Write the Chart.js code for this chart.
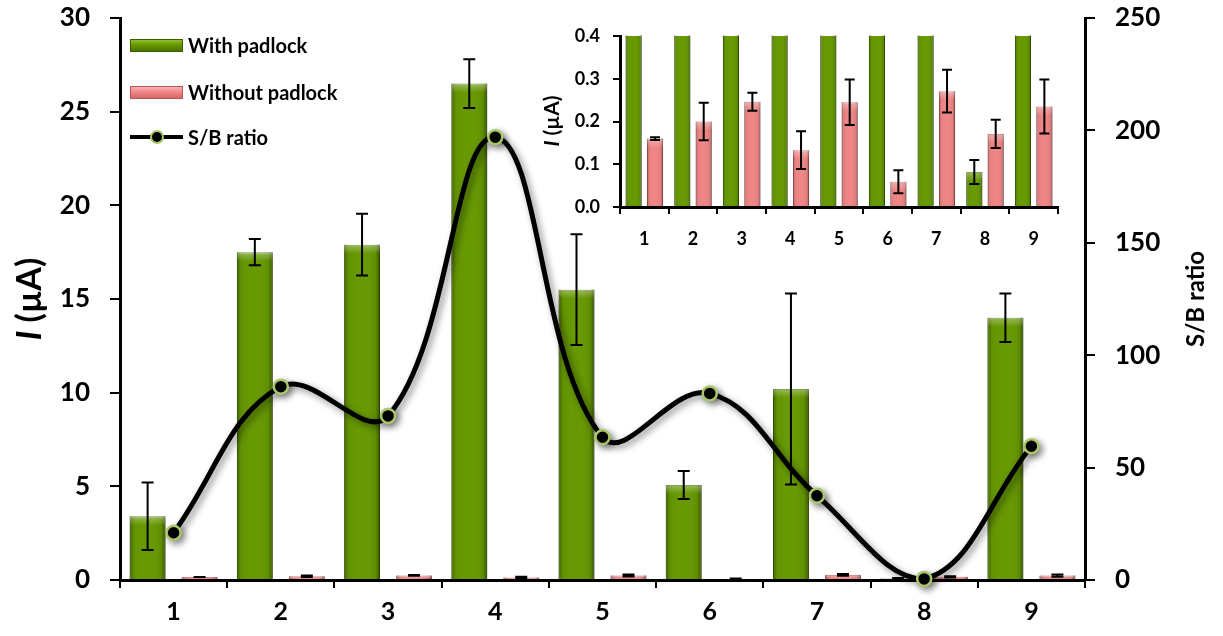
<!DOCTYPE html>
<html>
<head>
<meta charset="utf-8">
<script src="https://cdn.jsdelivr.net/npm/chart.js@4/dist/chart.umd.min.js"></script>
<style>
  body { margin: 0; background: #fff; }
  #wrap { position: relative; width: 1223px; height: 636px; font-family: Lato, sans-serif; }
  #main { position: absolute; left: 0; top: 0; }
  #inset { position: absolute; left: 520px; top: 20px; }
  .leg { position: absolute; left: 130px; height: 24px; display: flex; align-items: center;
         font: bold 20px Lato, sans-serif; color: #000; white-space: nowrap; }
  .sw { width: 53px; height: 13px; margin-right: 5px; box-sizing: border-box; }
  .sw.green { background: linear-gradient(#8fbf2e, #669900 45%, #4a7300); border: 1px solid #3b5c00; }
  .sw.pink { background: linear-gradient(#f9b3b3, #f08787 45%, #d56868); border: 1px solid #b95555; }
  .sw.line { position: relative; height: 4px; background: #000; margin-top: 0; }
  .sw.line::after { content: ''; position: absolute; left: 20px; top: -5px; width: 10px; height: 10px;
         border-radius: 50%; background: #000; border: 2px solid #a9c86a; }
</style>
</head>
<body>
<div id="wrap">
  <canvas id="main" width="1223" height="636"></canvas>
  <canvas id="inset" width="545" height="235"></canvas>
  <div class="leg" style="top:33px"><div class="sw green"></div>With padlock</div>
  <div class="leg" style="top:80px"><div class="sw pink"></div>Without padlock</div>
  <div class="leg" style="top:125px"><div class="sw line"></div>S/B ratio</div>
</div>
<script>
// data
const categories = ['1', '2', '3', '4', '5', '6', '7', '8', '9'];
const withPadlock = [3.4, 17.5, 17.9, 26.5, 15.5, 5.07, 10.2, 0.082, 14.0];
const withPadlockErr = [1.8, 0.7, 1.65, 1.3, 2.95, 0.75, 5.1, 0.028, 1.3];
const withoutPadlock = [0.16, 0.20, 0.246, 0.133, 0.245, 0.059, 0.271, 0.171, 0.235];
const withoutPadlockErr = [0.003, 0.044, 0.021, 0.044, 0.053, 0.027, 0.05, 0.033, 0.063];
const sbRatio = [21, 86, 73, 197, 63.5, 83, 37.5, 0.5, 59.5];

const GREEN = '#669900';
const PINK = '#f08585';

Chart.defaults.font.family = 'Lato, sans-serif';
Chart.defaults.font.weight = 'bold';
Chart.defaults.color = '#000';

// bevel shading + error bars, drawn right after each bar dataset
const barDecor = {
  id: 'barDecor',
  afterDatasetDraw(chart, args, opts) {
    const meta = args.meta;
    if (meta.type !== 'bar') return;
    const ds = chart.data.datasets[args.index];
    const ctx = chart.ctx;
    const area = chart.chartArea;
    const ys = chart.scales[meta.yAxisID];
    ctx.save();
    ctx.beginPath();
    ctx.rect(area.left, area.top - 1, area.right - area.left, area.bottom - area.top + 1);
    ctx.clip();
    meta.data.forEach((bar) => {
      const p = bar.getProps(['x', 'y', 'base', 'width'], true);
      const l = p.x - p.width / 2;
      const h = p.base - p.y;
      if (h <= 0) return;
      const g = ctx.createLinearGradient(l, 0, l + p.width, 0);
      g.addColorStop(0, 'rgba(0,0,0,0.35)');
      g.addColorStop(0.12, 'rgba(0,0,0,0.05)');
      g.addColorStop(0.5, 'rgba(255,255,255,0)');
      g.addColorStop(0.88, 'rgba(0,0,0,0.08)');
      g.addColorStop(1, 'rgba(0,0,0,0.45)');
      ctx.fillStyle = g;
      ctx.fillRect(l, p.y, p.width, h);
      const th = Math.min(9, h);
      const g2 = ctx.createLinearGradient(0, p.y, 0, p.y + th);
      g2.addColorStop(0, 'rgba(255,255,255,0.35)');
      g2.addColorStop(1, 'rgba(255,255,255,0)');
      ctx.fillStyle = g2;
      ctx.fillRect(l, p.y, p.width, th);
    });
    const err = ds.errors;
    if (err) {
      ctx.strokeStyle = '#000';
      ctx.lineWidth = opts.lw || 2;
      const cw = opts.cap || 6;
      meta.data.forEach((bar, i) => {
        const x = bar.x;
        const v = ds.data[i];
        const yHi = ys.getPixelForValue(v + err[i]);
        const yLo = ys.getPixelForValue(Math.max(0, v - err[i]));
        ctx.beginPath();
        ctx.moveTo(x, yHi); ctx.lineTo(x, yLo);
        ctx.moveTo(x - cw, yHi); ctx.lineTo(x + cw, yHi);
        ctx.moveTo(x - cw, yLo); ctx.lineTo(x + cw, yLo);
        ctx.stroke();
      });
    }
    ctx.restore();
  }
};

const lineShadow = {
  id: 'lineShadow',
  beforeDatasetDraw(chart, args) {
    if (args.meta.type !== 'line') return;
    const ctx = chart.ctx;
    ctx.save();
    ctx.shadowColor = 'rgba(0,0,0,0.45)';
    ctx.shadowBlur = 7;
    ctx.shadowOffsetX = 3;
    ctx.shadowOffsetY = 3;
  },
  afterDatasetDraw(chart, args) {
    if (args.meta.type !== 'line') return;
    chart.ctx.restore();
  }
};

// rotated axis titles (italic I needs mixed fonts)
const makeTitles = (items) => ({
  id: 'axisTitles',
  afterDraw(chart) {
    const ctx = chart.ctx;
    items.forEach(t => {
      ctx.save();
      ctx.translate(t.x, t.y);
      ctx.rotate(-Math.PI / 2);
      ctx.fillStyle = '#000';
      ctx.textBaseline = 'middle';
      ctx.textAlign = 'left';
      const widths = t.parts.map(p => {
        ctx.font = (p.italic ? 'italic ' : '') + 'bold ' + t.size + 'px Lato, sans-serif';
        return ctx.measureText(p.text).width;
      });
      let cx = -widths.reduce((a, b) => a + b, 0) / 2;
      t.parts.forEach((p, i) => {
        ctx.font = (p.italic ? 'italic ' : '') + 'bold ' + t.size + 'px Lato, sans-serif';
        ctx.fillText(p.text, cx, 0);
        cx += widths[i];
      });
      ctx.restore();
    });
  }
});

const axisLine = { color: '#000', width: 3 };
const tickGrid = (len) => ({ drawOnChartArea: false, drawTicks: true, tickLength: len, color: '#000', lineWidth: 2 });
// fixed box size, and only a small overflow at the top for the highest label
const fixBox = (w, top) => (s) => { s.width = w; s.paddingTop = top; s.paddingBottom = 0; };

// main chart
new Chart(document.getElementById('main'), {
  data: {
    labels: categories,
    datasets: [
      {
        type: 'line', label: 'S/B ratio', data: sbRatio, yAxisID: 'y1', order: 0,
        borderColor: '#000', borderWidth: 5, tension: 0.4, clip: false,
        pointRadius: 7, pointBackgroundColor: '#000', pointBorderColor: '#a9c86a', pointBorderWidth: 2.5
      },
      {
        type: 'bar', label: 'With padlock', data: withPadlock, errors: withPadlockErr, yAxisID: 'y', order: 1,
        backgroundColor: GREEN, borderColor: '#4a7300', borderWidth: 1,
        categoryPercentage: 0.97, barPercentage: 0.69
      },
      {
        type: 'bar', label: 'Without padlock', data: withoutPadlock, errors: withoutPadlockErr, yAxisID: 'y', order: 2,
        backgroundColor: PINK, borderColor: '#c96060', borderWidth: 1,
        categoryPercentage: 0.97, barPercentage: 0.69
      }
    ]
  },
  options: {
    responsive: false,
    animation: false,
    devicePixelRatio: 1,
    layout: { padding: 0 },
    plugins: {
      legend: { display: false },
      tooltip: { enabled: false },
      barDecor: { cap: 6, lw: 2 }
    },
    scales: {
      x: {
        grid: { ...tickGrid(8), offset: true },
        border: axisLine,
        ticks: { font: { size: 25, weight: 'bold' }, padding: 9 },
        afterFit: (s) => { s.height = 56; }
      },
      y: {
        position: 'left', min: 0, max: 30,
        grid: tickGrid(10),
        border: axisLine,
        ticks: { stepSize: 5, font: { size: 26, weight: 'bold' }, padding: 20 },
        afterFit: fixBox(120, 18)
      },
      y1: {
        position: 'right', min: 0, max: 250,
        grid: tickGrid(10),
        border: axisLine,
        ticks: { stepSize: 50, font: { size: 26, weight: 'bold' }, padding: 20 },
        afterFit: fixBox(138, 18)
      }
    }
  },
  plugins: [barDecor, lineShadow, makeTitles([
    { x: 30, y: 299, size: 34, parts: [{ text: 'I', italic: true }, { text: ' (µA)' }] },
    { x: 1196, y: 299, size: 24, parts: [{ text: 'S/B ratio' }] }
  ])]
});

// inset: zoom on the low-current region
new Chart(document.getElementById('inset'), {
  type: 'bar',
  data: {
    labels: categories,
    datasets: [
      {
        label: 'With padlock', data: withPadlock, errors: withPadlockErr,
        backgroundColor: GREEN, borderColor: '#4a7300', borderWidth: 1,
        categoryPercentage: 0.88, barPercentage: 0.75
      },
      {
        label: 'Without padlock', data: withoutPadlock, errors: withoutPadlockErr,
        backgroundColor: PINK, borderColor: '#c96060', borderWidth: 1,
        categoryPercentage: 0.88, barPercentage: 0.75
      }
    ]
  },
  options: {
    responsive: false,
    animation: false,
    devicePixelRatio: 1,
    layout: { padding: { top: 0, right: 7, left: 0, bottom: 0 } },
    plugins: {
      legend: { display: false },
      tooltip: { enabled: false },
      barDecor: { cap: 5, lw: 2 }
    },
    scales: {
      x: {
        grid: { ...tickGrid(7), offset: true },
        border: axisLine,
        ticks: { font: { size: 18, weight: 'bold' }, padding: 14 },
        afterFit: (s) => { s.height = 48; }
      },
      y: {
        min: 0, max: 0.4,
        grid: tickGrid(7),
        border: axisLine,
        ticks: { stepSize: 0.1, font: { size: 18, weight: 'bold' }, padding: 13,
                 callback: (v) => Number(v).toFixed(1) },
        afterFit: fixBox(100, 16)
      }
    }
  },
  plugins: [barDecor, makeTitles([
    { x: 32, y: 101, size: 21, parts: [{ text: 'I', italic: true }, { text: ' (µA)' }] }
  ])]
});
</script>
</body>
</html>
